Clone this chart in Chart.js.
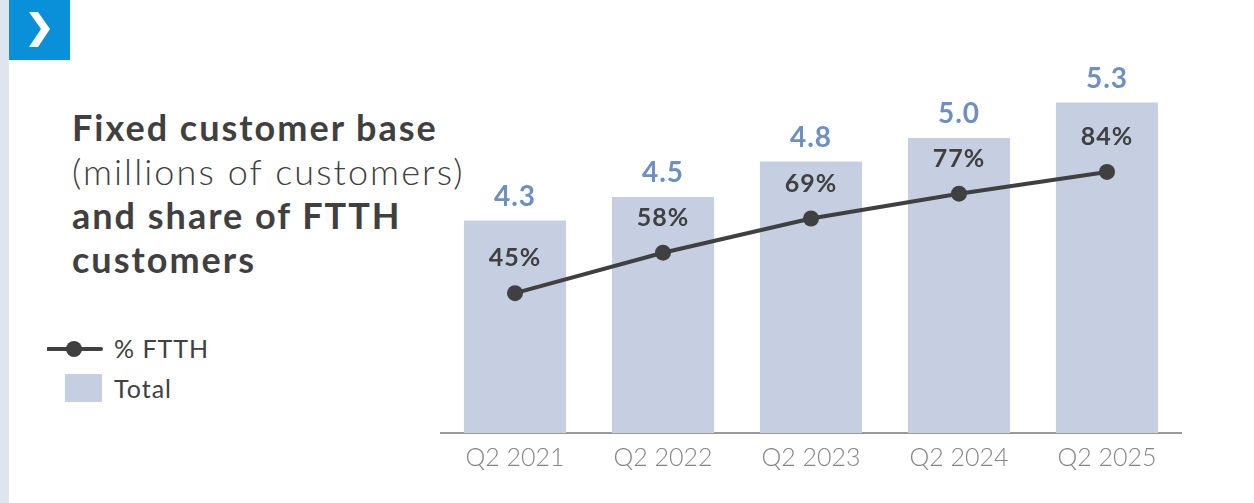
<!DOCTYPE html>
<html>
<head>
<meta charset="utf-8">
<script src="https://cdn.jsdelivr.net/npm/chart.js@4.4.1/dist/chart.umd.min.js"></script>
<style>
  html, body { margin: 0; padding: 0; background: #fff; }
  body { width: 1254px; height: 503px; position: relative; overflow: hidden; font-family: Lato, sans-serif; }
  .strip { position: absolute; left: 0; top: 0; width: 9px; height: 503px; background: #dee5ef; }
  .badge { position: absolute; left: 9px; top: 0; width: 61px; height: 60px; background: #0a8fd9; }
  .badge svg { position: absolute; left: 0; top: 0; }
  .title { position: absolute; left: 72px; top: 105px; color: #404040; font-size: 36px; line-height: 44px; letter-spacing: 2px; white-space: nowrap; }
  .title b { font-weight: 700; }
  .title span { font-weight: 300; letter-spacing: 2.1px; }
  .legend { position: absolute; left: 47px; top: 332px; color: #404040; font-size: 25px; letter-spacing: 1px; }
  .legend .row { position: relative; height: 40px; width: 200px; }
  .legend .txt { position: absolute; left: 67px; top: 1px; white-space: nowrap; }
  canvas { position: absolute; left: 0; top: 0; }
</style>
</head>
<body>
<div class="strip"></div>
<div class="badge">
  <svg width="61" height="60" viewBox="0 0 61 60">
    <polygon points="20,12 29,12 41,29 29,47 20,47 32,29" fill="#fff"/>
  </svg>
</div>
<div class="title">
  <b>Fixed customer base</b><br>
  <span>(millions of customers)</span><br>
  <b>and share of FTTH</b><br>
  <b>customers</b>
</div>
<div class="legend">
  <div class="row">
    <svg width="60" height="40" style="position:absolute;left:0;top:0">
      <line x1="1" y1="17" x2="54" y2="17" stroke="#404040" stroke-width="4" stroke-linecap="round"/>
      <circle cx="27" cy="17" r="8" fill="#404040"/>
    </svg>
    <div class="txt">% FTTH</div>
  </div>
  <div class="row">
    <div style="position:absolute;left:18px;top:2px;width:37px;height:28px;background:#c5cfe1"></div>
    <div class="txt">Total</div>
  </div>
</div>
<canvas id="chart" width="1254" height="503"></canvas>
<script>
// Fixed customer base with FTTH share
const quarters = ['Q2 2021', 'Q2 2022', 'Q2 2023', 'Q2 2024', 'Q2 2025'];
const totalCustomers = [4.3, 4.5, 4.8, 5.0, 5.3];     // millions
const ftthShare = [45, 58, 69, 77, 84];               // percent

const barColor = '#c5cfe1';
const lineColor = '#404040';
const barLabelColor = '#6e8fc2';

// Value labels: totals above the bars, shares above the points
const valueLabels = {
  id: 'valueLabels',
  afterDatasetsDraw(chart) {
    const ctx = chart.ctx;
    ctx.save();
    ctx.textAlign = 'center';
    ctx.textBaseline = 'middle';
    ctx.letterSpacing = '1px';

    const bars = chart.getDatasetMeta(1).data;
    ctx.fillStyle = barLabelColor;
    ctx.font = 'bold 28px Lato, sans-serif';
    bars.forEach((bar, i) => {
      ctx.fillText(totalCustomers[i].toFixed(1), bar.x, bar.y - 24);
    });

    const points = chart.getDatasetMeta(0).data;
    ctx.fillStyle = lineColor;
    ctx.font = 'bold 25px Lato, sans-serif';
    points.forEach((pt, i) => {
      ctx.fillText(ftthShare[i] + '%', pt.x, pt.y - 35);
    });
    ctx.restore();
  }
};

new Chart(document.getElementById('chart'), {
  data: {
    labels: quarters,
    datasets: [
      {
        type: 'line',
        label: '% FTTH',
        data: ftthShare,
        yAxisID: 'y2',
        borderColor: lineColor,
        borderWidth: 4,
        pointRadius: 8,
        pointBackgroundColor: lineColor,
        pointBorderWidth: 0,
        tension: 0,
        order: 0
      },
      {
        type: 'bar',
        label: 'Total',
        data: totalCustomers,
        yAxisID: 'y',
        backgroundColor: barColor,
        categoryPercentage: 1,
        barPercentage: 0.69,
        order: 1
      }
    ]
  },
  options: {
    responsive: false,
    animation: false,
    layout: { padding: { left: 441, right: 73, top: 60, bottom: 20 } },
    plugins: {
      legend: { display: false },
      tooltip: { enabled: false }
    },
    scales: {
      x: {
        grid: { display: false, drawTicks: false },
        border: { color: '#9a9a9a', width: 2 },
        ticks: {
          color: '#858585',
          padding: 10,
          font: { family: 'Lato', size: 25, weight: 300 }
        }
      },
      y: { display: false, min: 2.5, max: 5.66 },
      y2: { display: false, min: 0, max: 120 }
    }
  },
  plugins: [valueLabels]
});
</script>
</body>
</html>
